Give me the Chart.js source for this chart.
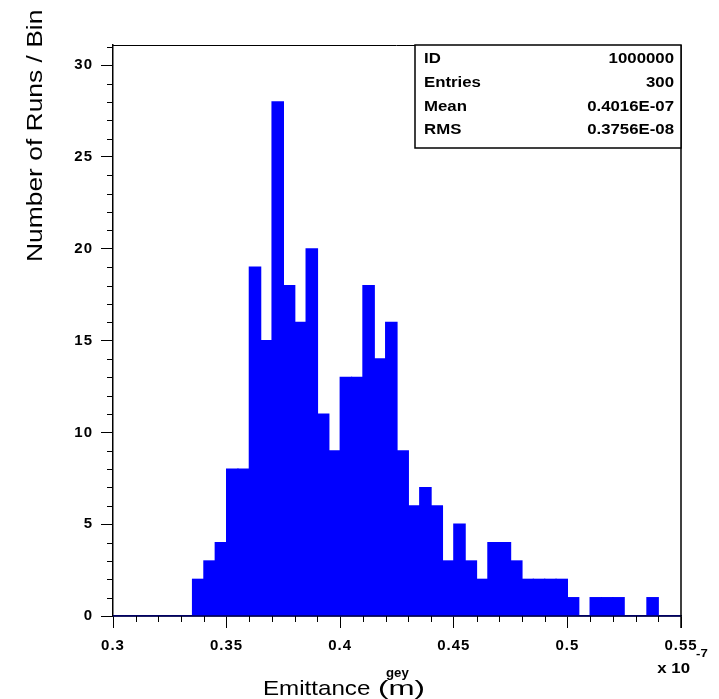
<!DOCTYPE html>
<html>
<head>
<meta charset="utf-8">
<script src="https://cdn.jsdelivr.net/npm/chart.js@4.4.1/dist/chart.umd.min.js"></script>
<style>
  html, body { margin: 0; padding: 0; background: #fff; }
</style>
</head>
<body>
<canvas id="hist" width="719" height="699"></canvas>
<script>
// emittance histogram, 50 bins of 0.005 (units of 10^-7 m) from 0.30 to 0.55
const xMin = 0.3;
const xMax = 0.55;
const binWidth = 0.005;
const counts = [
  0, 0, 0, 0, 0, 0, 0, 2, 3, 4,
  8, 8, 19, 15, 28, 18, 16, 20, 11, 9,
  13, 13, 18, 14, 16, 9, 6, 7, 6, 3,
  5, 3, 2, 4, 4, 3, 2, 2, 2, 2,
  1, 0, 1, 1, 1, 0, 0, 1, 0, 0
];
const xTicks = [0.3, 0.35, 0.4, 0.45, 0.5, 0.55];
const yTicks = [0, 5, 10, 15, 20, 25, 30];
const yMax = 31.1;
const statLabels = ["ID", "Entries", "Mean", "RMS"];
const statValues = ["1000000", "300", "0.4016E-07", "0.3756E-08"];
const xTitle = "Emittance";
const xUnit = "(m)";
const xSub = "gey";
const yTitle = "Number of Runs / Bin";

const FONT = "'Liberation Sans', Arial, Helvetica, sans-serif";

// PAW text looks stretched sideways, so draw it scaled in x
function drawText(ctx, text, x, y, font, sx, align) {
  ctx.save();
  ctx.font = font;
  ctx.textAlign = align;
  ctx.textBaseline = "alphabetic";
  ctx.fillStyle = "#000";
  ctx.translate(x, y);
  ctx.scale(sx, 1);
  ctx.fillText(text, 0, 0);
  ctx.restore();
}

const pawFrame = {
  id: "pawFrame",
  beforeDraw(chart) {
    // widen the tick labels a little, like the PAW ones
    chart.ctx.letterSpacing = "1px";
  },
  afterDraw(chart) {
    const { ctx, chartArea: a } = chart;
    const x = chart.scales.x;
    const y = chart.scales.y;
    ctx.letterSpacing = "0px";
    ctx.save();

    // baseline of the histogram
    ctx.strokeStyle = "#00004a";
    ctx.lineWidth = 1.5;
    ctx.beginPath();
    ctx.moveTo(a.left, a.bottom);
    ctx.lineTo(a.right, a.bottom);
    ctx.stroke();

    // top and right side of the frame
    ctx.strokeStyle = "#000";
    ctx.lineWidth = 1;
    ctx.beginPath();
    ctx.moveTo(a.left - 1, a.top + 0.5);
    ctx.lineTo(a.right, a.top + 0.5);
    ctx.stroke();
    ctx.lineWidth = 1.5;
    ctx.beginPath();
    ctx.moveTo(a.right, a.top);
    ctx.lineTo(a.right, a.bottom + 12);
    ctx.stroke();

    // minor ticks
    ctx.lineWidth = 1;
    ctx.beginPath();
    for (let k = 1; k < 25; k++) {
      if (k % 5 === 0) continue;
      const px = Math.round(x.getPixelForValue(xMin + k * 0.01)) + 0.5;
      ctx.moveTo(px, a.bottom);
      ctx.lineTo(px, a.bottom + 6);
    }
    for (let k = 1; k <= Math.floor(yMax); k++) {
      if (k % 5 === 0) continue;
      const py = Math.round(y.getPixelForValue(k)) + 0.5;
      ctx.moveTo(a.left - 6, py);
      ctx.lineTo(a.left, py);
    }
    ctx.stroke();

    // stats box
    const bx = 415, by = a.top, bw = a.right - 415, bh = 103;
    ctx.fillStyle = "#fff";
    ctx.fillRect(bx, by, bw, bh);
    ctx.lineWidth = 1.5;
    ctx.strokeRect(bx, by, bw, bh);
    statLabels.forEach((lab, i) => {
      const base = by + 18 + i * 23.8;
      drawText(ctx, lab, bx + 9, base, "bold 14px " + FONT, 1.2, "left");
      drawText(ctx, statValues[i], a.right - 7, base, "bold 14px " + FONT, 1.2, "right");
    });

    // exponent of the x axis
    drawText(ctx, "x 10", 690, 673, "bold 14px " + FONT, 1.2, "right");
    drawText(ctx, "-7", 696, 657, "bold 11px " + FONT, 1.2, "left");

    // axis titles
    drawText(ctx, xTitle, 263, 695, "21px " + FONT, 1.15, "left");
    ctx.font = "21px " + FONT;
    const uw = ctx.measureText(xUnit).width;
    drawText(ctx, xUnit, 378, 695, "21px " + FONT, 47 / uw, "left");
    drawText(ctx, xSub, 386, 677, "bold 12px " + FONT, 1.1, "left");

    ctx.save();
    ctx.translate(42, 262);
    ctx.rotate(-Math.PI / 2);
    drawText(ctx, yTitle, 0, 0, "22px " + FONT, 1.2, "left");
    ctx.restore();

    ctx.restore();
  }
};

const ct = document.getElementById("hist");

new Chart(ct, {
  type: "bar",
  data: {
    datasets: [
      {
        label: "Entries",
        data: counts.map((c, i) => ({ x: xMin + (i + 0.5) * binWidth, y: c })),
        backgroundColor: "#0000ff",
        borderWidth: 0,
        inflateAmount: 0.6,
        barPercentage: 1,
        categoryPercentage: 1,
      },
    ],
  },
  options: {
    responsive: false,
    animation: false,
    layout: { padding: { top: 45, right: 38, bottom: 0, left: 0 } },
    plugins: {
      legend: { display: false },
      tooltip: { enabled: false },
    },
    scales: {
      x: {
        type: "linear",
        min: xMin,
        max: xMax,
        offset: false,
        grid: {
          drawOnChartArea: false,
          drawTicks: true,
          tickLength: 12,
          tickColor: "#000",
          offset: false,
        },
        border: { color: "#00004a", width: 1.5 },
        ticks: {
          color: "#000",
          padding: 9,
          maxRotation: 0,
          autoSkip: false,
          font: { family: FONT, size: 15, weight: "bold" },
          callback: (v) => String(v),
        },
        afterBuildTicks: (s) => { s.ticks = xTicks.map((v) => ({ value: v })); },
        afterFit: (s) => { s.height = 83; },
      },
      y: {
        type: "linear",
        min: 0,
        max: yMax,
        grid: {
          drawOnChartArea: false,
          drawTicks: true,
          tickLength: 12,
          tickColor: "#000",
        },
        border: { color: "#000", width: 1.5 },
        ticks: {
          color: "#000",
          padding: 8,
          font: { family: FONT, size: 15, weight: "bold" },
          callback: (v) => String(v),
        },
        afterBuildTicks: (s) => { s.ticks = yTicks.map((v) => ({ value: v })); },
        afterFit: (s) => { s.width = 113; },
      },
    },
  },
  plugins: [pawFrame],
});
</script>
</body>
</html>
